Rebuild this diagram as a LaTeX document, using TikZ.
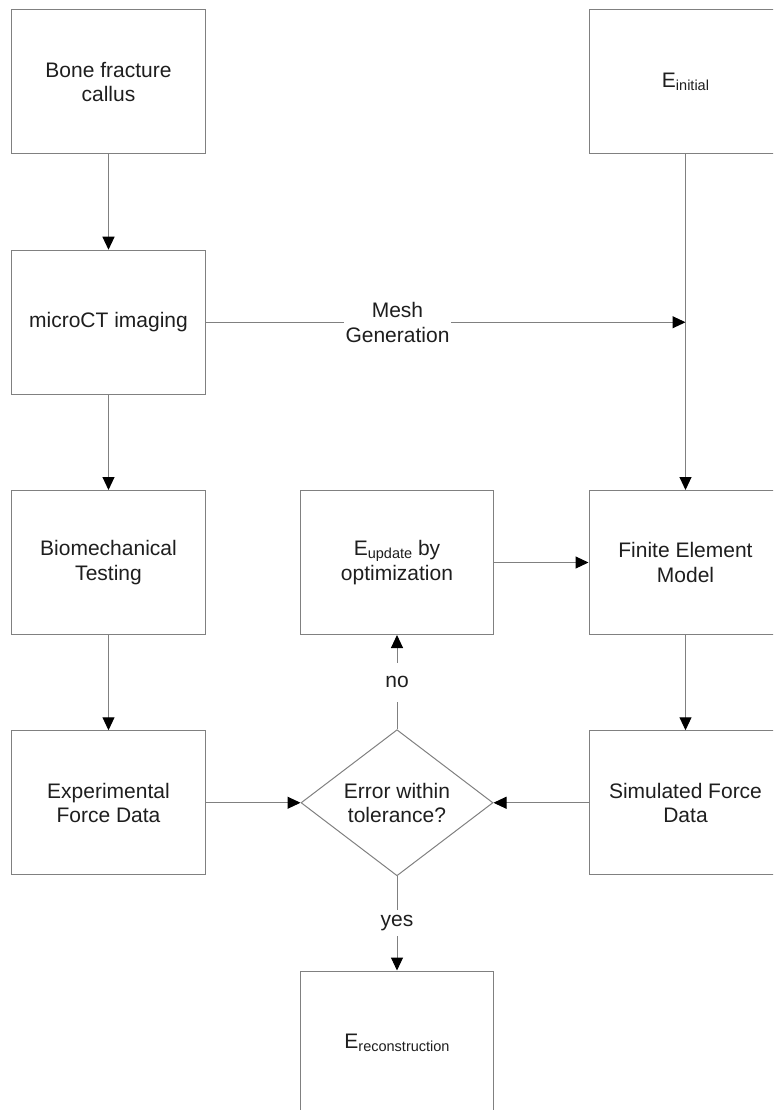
\documentclass[tikz,border=0pt]{standalone}
\usepackage{fontspec}
\setmainfont{Liberation Sans}
\usepackage{xcolor}
\definecolor{ColLine}{RGB}{128,128,128}
\definecolor{ColText}{RGB}{30,30,30}
\usepackage{tikz}
\usetikzlibrary{shapes}
\usetikzlibrary{arrows.meta}
\newcommand{\DiagFont}{\fontsize{21}{24.5}\selectfont}
\newcommand{\Sub}[1]{\raisebox{-3pt}{\fontsize{14.5}{14.5}\selectfont #1}}
\tikzstyle{Box}=[draw=ColLine,line width=1pt,minimum width=193pt,
    minimum height=144pt,align=center,text=ColText,font=\DiagFont]
\tikzstyle{Decision}=[diamond,draw=ColLine,line width=1pt,
    minimum width=192pt,minimum height=145pt,inner sep=0pt,align=center,
    text=ColText,font=\DiagFont]
\tikzstyle{Map}=[ColLine,line width=1pt,draw,
    -{Triangle[length=13pt,width=12pt,color=black]}]
\tikzstyle{EdgeLabel}=[fill=white,inner sep=2pt,minimum height=26pt,
    align=center,text=ColText,font=\DiagFont]
\begin{document}
\begin{tikzpicture}[x=288.5pt,y=240.25pt]
        \clip(-108.5pt,82pt)rectangle(664.5pt,-1028pt);
        \node[Box](Bone)at(0,0){Bone fracture\\callus};
        \node[Box](Micro)at(0,-1){microCT imaging};
        \node[Box](Biomech)at(0,-2){Biomechanical\\Testing};
        \node[Box](Exp)at(0,-3){Experimental\\Force Data};
        \node[Box](Einit)at(2,0){E\Sub{initial}};
        \node[Box](Fem)at(2,-2){Finite Element\\Model};
        \node[Box](Sim)at(2,-3){Simulated Force\\Data};
        \node[Box](Eupd)at(1,-2){E\Sub{update} by\\optimization};
        \node[Decision](Err)at(1,-3){Error within\\tolerance?};
        \node[Box](Erec)at(1,-4){E\Sub{reconstruction}};
        \draw[Map](Bone)--(Micro);
        \draw[Map](Micro)--(Biomech);
        \draw[Map](Biomech)--(Exp);
        \draw[Map](Einit)--(Fem);
        \draw[Map](Fem)--(Sim);
        \draw[Map](Micro)--(Micro-|Einit)node[EdgeLabel,pos=0.4]
            {Mesh\\Generation};
        \draw[Map](Eupd)--(Fem);
        \draw[Map](Exp)--(Err);
        \draw[Map](Sim)--(Err);
        \draw[Map](Err)--(Eupd)node[EdgeLabel,midway,minimum height=39pt]{no};
        \draw[Map](Err)--(Erec)node[EdgeLabel,midway]{yes};
    \end{tikzpicture}
\end{document}
